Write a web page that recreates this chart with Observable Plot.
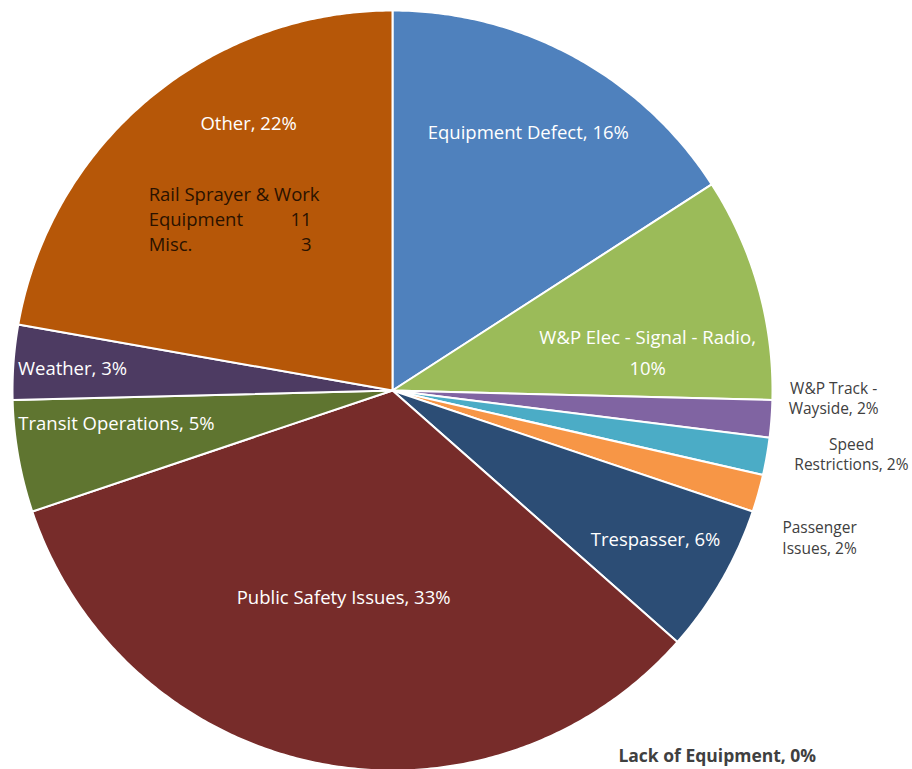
<!DOCTYPE html>
<html><head><meta charset="utf-8">
<script src="https://cdn.jsdelivr.net/npm/d3@7"></script>
<script src="https://cdn.jsdelivr.net/npm/@observablehq/plot@0.6"></script>
<style>html,body{margin:0;padding:0;background:#fff}</style>
</head><body><div id="chart"></div>
<script>
// ---- data ----
const categories = ["Equipment Defect","W&P Elec - Signal - Radio","W&P Track - Wayside","Speed Restrictions","Passenger Issues","Trespasser","Lack of Equipment","Public Safety Issues","Transit Operations","Weather","Other"];
const counts = [10,6,1,1,1,4,0,21,3,2,14];
const colors = ["#4F81BD","#9BBB59","#8064A2","#4BACC6","#F79646","#2C4D75","#772C2A","#772C2A","#5F7530","#4D3B62","#B65708"];
// label text as wrapped in the chart
const labelNames = ["Equipment Defect","W&P Elec - Signal - Radio","W&P Track -\nWayside","Speed\nRestrictions","Passenger\nIssues","Trespasser","Lack of Equipment","Public Safety Issues","Transit Operations","Weather","Other"];
const pctOnNewLine = ["W&P Elec - Signal - Radio"];
const otherItems = ["Rail Sprayer & Work\nEquipment","Misc."];
const otherCounts = [11,3];

// ---- label layout (radius factor, angle nudge in degrees, style group) ----
const labelLayout = [
  [0.767,-0.8,"in"],[0.680,6.6,"inwide"],[1.161,-3.4,"out"],[1.219,-2.2,"out"],[1.188,3.2,"out"],
  [0.797,-0.3,"in"],[1.288,7.0,"bold"],[0.562,1.8,"in"],[0.732,3.0,"in"],[0.844,-0.5,"in"],[0.796,11.6,"in"]
];

const total = d3.sum(counts);
const arcs = d3.pie().sort(null).value(d => d)(counts);

// slice polygons in unit-circle coordinates (y up)
const slicePts = [];
arcs.forEach((a, i) => {
  if (a.endAngle - a.startAngle <= 0) return;
  const k = categories[i];
  const n = Math.max(2, Math.ceil((a.endAngle - a.startAngle) / (Math.PI / 360)));
  slicePts.push({x: 0, y: 0, k});
  for (let j = 0; j <= n; j++) {
    const t = a.startAngle + (a.endAngle - a.startAngle) * j / n;
    slicePts.push({x: Math.sin(t), y: Math.cos(t), k});
  }
  slicePts.push({x: 0, y: 0, k});
});

const labels = arcs.map((a, i) => {
  const [r, nudge, group] = labelLayout[i];
  const mid = (a.startAngle + a.endAngle) / 2 + nudge * Math.PI / 180;
  const pct = Math.round(counts[i] / total * 100);
  const sep = pctOnNewLine.includes(categories[i]) ? ",\n" : ", ";
  return {x: r * Math.sin(mid), y: r * Math.cos(mid), text: labelNames[i] + sep + pct + "%", group, k: categories[i]};
});
const otherLabel = labels[categories.indexOf("Other")];

// other breakdown lines
const otherLines = [];
const otherNums = [];
let li = 0;
otherItems.forEach((it, i) => {
  it.split("\n").forEach(p => { otherLines.push({x: otherLabel.x, y: otherLabel.y, text: p, line: li}); li++; });
  otherNums.push({x: otherLabel.x, y: otherLabel.y, text: String(otherCounts[i]), line: li - 1});
});

const font = "Open Sans";
const inSize = 18.5;
const chart = Plot.plot({
  width: 912, height: 769, margin: 0,
  style: {fontFamily: font, background: "white"},
  x: {domain: [-1, 1], range: [12, 772], axis: null},
  y: {domain: [-1, 1], range: [770, 10], axis: null},
  color: {domain: categories, range: colors},
  marks: [
    Plot.line(slicePts, {x: "x", y: "y", z: "k", fill: "k", stroke: "white", strokeWidth: 2, strokeLinejoin: "round"}),
    Plot.text(labels.filter(d => d.group === "in"), {x: "x", y: "y", text: "text", fill: "white", fontSize: inSize, fontFamily: font}),
    Plot.text(labels.filter(d => d.group === "inwide"), {x: "x", y: "y", text: "text", fill: "white", fontSize: inSize, lineHeight: 1.68, fontFamily: font}),
    Plot.text(labels.filter(d => d.group === "out"), {x: "x", y: "y", text: "text", fill: "#404040", fontSize: 15.5, lineHeight: 1.34, fontFamily: font}),
    Plot.text(labels.filter(d => d.group === "bold"), {x: "x", y: "y", text: "text", fill: "#404040", fontSize: 17.5, fontWeight: "bold", fontFamily: font}),
    ...otherLines.map(d => Plot.text([d], {x: "x", y: "y", text: "text", fill: "#2a1200", fontSize: inSize, textAnchor: "start", dx: -100, dy: 71 + 25 * d.line, fontFamily: font})),
    ...otherNums.map(d => Plot.text([d], {x: "x", y: "y", text: "text", fill: "#2a1200", fontSize: inSize, textAnchor: "end", dx: 63, dy: 71 + 25 * d.line, fontFamily: font}))
  ]
});
document.getElementById("chart").append(chart);
</script>
</body></html>
